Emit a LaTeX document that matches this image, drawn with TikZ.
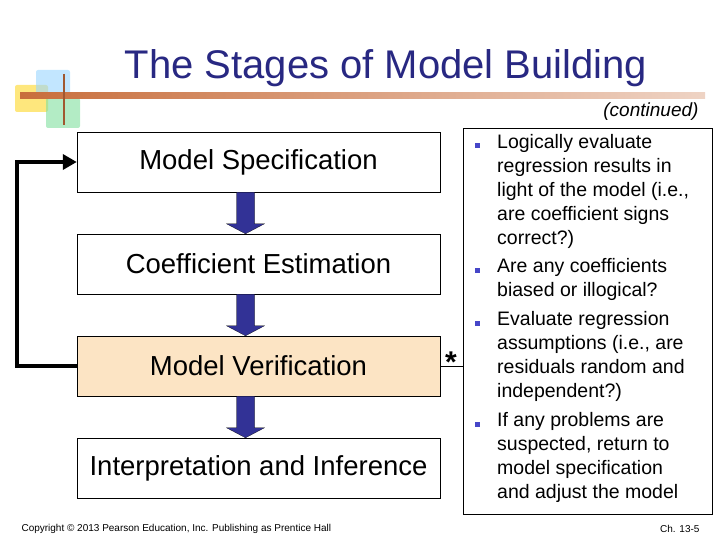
\documentclass[tikz,border=0pt]{standalone}
\usepackage{fontspec}
\setmainfont{Liberation Sans}
\usetikzlibrary{positioning,calc,arrows.meta}
\definecolor{titleblue}{RGB}{40,40,130}
\definecolor{arrowblue}{RGB}{50,50,150}
\definecolor{stagefill}{RGB}{252,228,196}
\definecolor{barorange}{RGB}{200,110,60}
\definecolor{bulletblue}{RGB}{70,70,200}
\tikzset{
  stage/.style={draw, thin, minimum width=363pt, minimum height=60pt, font=\fontsize{27.5}{32}\selectfont},
  flow/.style={fill=arrowblue, draw=black, very thin},
  point/.style={anchor=north west, align=left, inner sep=0pt, font=\fontsize{19.5}{24}\selectfont},
  bullet/.style={fill=bulletblue, minimum size=5pt, inner sep=0pt}
}
\newcommand{\flowarrow}[2]{%
  \path[flow] ($(#1.south)+(-22,0)$) -- ($(#1.south)+(-4,0)$) -- ($(#2.north)+(-4,-10)$) -- ($(#2.north)+(6,-10)$)
    -- ($(#2.north)+(-13,0)$) -- ($(#2.north)+(-32,-10)$) -- ($(#2.north)+(-22,-10)$) -- cycle;}
\begin{document}
\begin{tikzpicture}[x=1pt,y=-1pt]
				\useasboundingbox (0,0) rectangle (720,540);
				% header
				\fill[yellow!70!orange!50, rounded corners=2pt] (15,85) rectangle (48,112);
				\fill[blue!40!cyan!40, opacity=0.6, rounded corners=2pt] (36,70) rectangle (70,98);
				\fill[green!50!teal!50, opacity=0.6, rounded corners=2pt] (46,98) rectangle (80,128);
				\fill[left color=barorange, right color=barorange!30] (20,93) rectangle (705,99);
				\draw[barorange!80!black, line width=1.5pt] (64,74) -- (64,125);
				\node[text=titleblue, font=\fontsize{40}{44}\selectfont] (title) at (386,68) {The Stages of Model Building};
				\node[anchor=east, font=\itshape\fontsize{19}{22}\selectfont] (cont) at (702,112) {(continued)};
				
				% stages
				\node[stage] (spec) at (258.5,162) {Model Specification};
				\node[stage] (coef) at (258.5,264) {Coefficient Estimation};
				\node[stage, fill=stagefill] (verif) at (258.5,366) {Model Verification};
				\node[stage] (interp) at (258.5,468) {Interpretation and Inference};
				
				\flowarrow{spec}{coef}
				\flowarrow{coef}{verif}
				\flowarrow{verif}{interp}
				
				% feedback loop
				\coordinate (c1) at (17,366);
				\coordinate (c2) at (17,162);
				\draw[line width=3.5pt, -{Triangle[length=14pt,width=15pt]}] (verif.west) -- (c1) -- (c2) -- (spec.west);
				
				% notes
				\node[draw, thin, minimum width=249pt, minimum height=386pt, anchor=north west] (notes) at (463,128) {};
				\draw[thin] (verif.east) -- (verif.east -| notes.west);
				\node[font=\bfseries\fontsize{30}{30}\selectfont] (star) at (451,362) {*};
				
				\node[point] (p1) at (497,134) {Logically evaluate\\regression results in\\light of the model (i.e.,\\are coefficient signs\\correct?)};
				\node[point] (p2) at (497,258) {Are any coefficients\\biased or illogical?};
				\node[point] (p3) at (497,311) {Evaluate regression\\assumptions (i.e., are\\residuals random and\\independent?)};
				\node[point] (p4) at (497,412) {If any problems are\\suspected, return to\\model specification\\and adjust the model};
				\foreach \p/\y in {p1/146,p2/270,p3/323,p4/424}
				  \node[bullet] (b\p) at (477,\y) {};
				
				% footer
				\node[anchor=west, font=\fontsize{10}{12}\selectfont] (copy) at (18,529) {Copyright © 2013 Pearson Education, Inc. Publishing as Prentice Hall};
				\node[anchor=east, font=\fontsize{10}{12}\selectfont] (ch) at (703,529) {Ch. 13-5};
			\end{tikzpicture}
\end{document}
